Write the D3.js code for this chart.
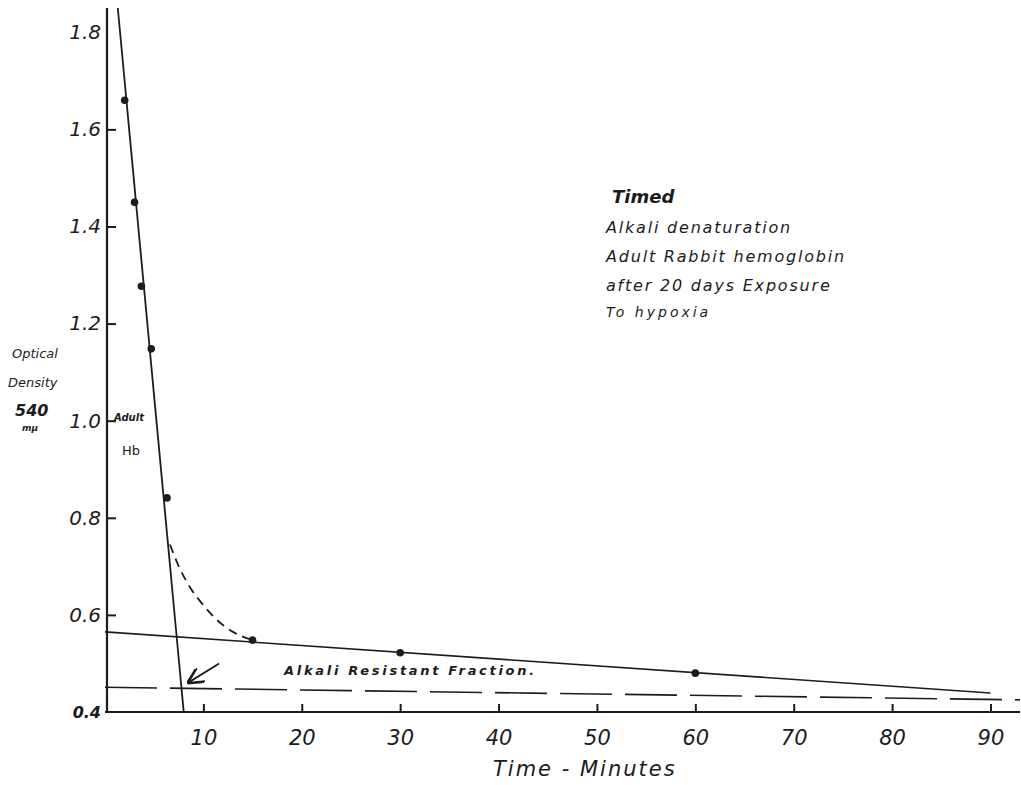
<!DOCTYPE html>
<html>
<head>
<meta charset="utf-8">
<script src="https://cdn.jsdelivr.net/npm/d3@7"></script>
<style>
  body { margin: 0; background: #fff; }
  text { font-family: "DejaVu Sans", sans-serif; font-style: italic; fill: #1c1c1c; }
</style>
</head>
<body>
<div id="chart"></div>
<script>
// measured points (time in minutes, optical density at 540 mμ)
const times = [2, 3, 3.7, 4.7, 6.3, 15, 30, 60];
const density = [1.66, 1.45, 1.277, 1.148, 0.841, 0.548, 0.522, 0.48];

// fitted lines
const adultHbLine = [[1.3, 1.85], [8.0, 0.4]];
const resistantLine = [[0, 0.565], [90, 0.439]];
const resistantLevel = [[0, 0.451], [93, 0.425]];
const transitionCurve = [[6.6, 0.745], [7.5, 0.70], [8.7, 0.655], [10, 0.62], [11.1, 0.595], [13, 0.565], [15, 0.548]];
const arrowPts = [[11.6, 0.50], [8.5, 0.461]];

const xTicks = [10, 20, 30, 40, 50, 60, 70, 80, 90];
const yTicks = [0.4, 0.6, 0.8, 1.0, 1.2, 1.4, 1.6, 1.8];

const noteLines = ["Alkali denaturation", "Adult Rabbit hemoglobin", "after 20 days Exposure", "To hypoxia"];

const width = 1021, height = 785;
const ink = "#1c1c1c";

const svg = d3.select("#chart")
  .append("svg")
    .attr("width", width)
    .attr("height", height);

const x = d3.scaleLinear().domain([0, 93]).range([105, 1020]);
const y = d3.scaleLinear().domain([0.4, 1.85]).range([712, 8]);

// axes
const xAxis = svg.append("g")
  .attr("transform", `translate(0, ${y(0.4)})`)
  .call(d3.axisBottom(x).tickValues(xTicks).tickSize(-8).tickPadding(18).tickFormat(d3.format("d")));
xAxis.select(".domain").attr("stroke", ink).attr("stroke-width", 2).attr("d", `M${x(0)},0H${x(93)}`);
xAxis.selectAll(".tick line").attr("stroke", ink).attr("stroke-width", 2);
xAxis.selectAll(".tick text")
  .attr("fill", ink)
  .style("font-size", "21px")
  .style("font-style", "italic");

const yAxis = svg.append("g")
  .attr("transform", `translate(${x(0) + 2}, 0)`)
  .call(d3.axisLeft(y).tickValues(yTicks).tickSize(-9).tickPadding(6).tickFormat(d3.format(".1f")));
yAxis.select(".domain").attr("stroke", ink).attr("stroke-width", 2.2).attr("d", `M0,${y(0.4)}V${y(1.85)}`);
yAxis.selectAll(".tick line")
  .attr("stroke", ink)
  .attr("stroke-width", 2)
  .attr("stroke-opacity", d => (d === 0.4 || d === 1.8) ? 0 : 1);
yAxis.selectAll(".tick text")
  .attr("fill", ink)
  .style("font-size", d => d === 0.4 ? "16px" : "20px")
  .style("font-style", "italic")
  .style("font-weight", d => d === 0.4 ? 600 : 400);

const line = d3.line().x(d => x(d[0])).y(d => y(d[1]));

// Adult Hb regression line
svg.append("path")
  .attr("d", line(adultHbLine))
  .attr("fill", "none").attr("stroke", ink).attr("stroke-width", 1.8);

// resistant fraction extrapolation
svg.append("path")
  .attr("d", line(resistantLine))
  .attr("fill", "none").attr("stroke", ink).attr("stroke-width", 1.6);

// resistant level (long dashes)
svg.append("path")
  .attr("d", line(resistantLevel))
  .attr("fill", "none").attr("stroke", ink).attr("stroke-width", 1.6)
  .attr("stroke-dasharray", "52,13");

// transition curve (short dashes)
svg.append("path")
  .attr("d", line.curve(d3.curveMonotoneX)(transitionCurve))
  .attr("fill", "none").attr("stroke", ink).attr("stroke-width", 1.8)
  .attr("stroke-dasharray", "9,6");
line.curve(d3.curveLinear);

// arrow pointing to the intersection
svg.append("defs").append("marker")
  .attr("id", "head")
  .attr("viewBox", "0 0 10 10")
  .attr("refX", 9).attr("refY", 5)
  .attr("markerWidth", 9).attr("markerHeight", 9)
  .attr("orient", "auto")
  .append("path")
    .attr("d", "M0,0L10,5L0,10")
    .attr("fill", "none").attr("stroke", ink).attr("stroke-width", 1.6);
svg.append("path")
  .attr("d", line(arrowPts))
  .attr("fill", "none").attr("stroke", ink).attr("stroke-width", 1.8)
  .attr("marker-end", "url(#head)");

// data points
svg.selectAll(".pt")
  .data(times.map((t, i) => [t, density[i]]))
  .join("circle")
    .attr("class", "pt")
    .attr("cx", d => x(d[0]))
    .attr("cy", d => y(d[1]))
    .attr("r", 3.8)
    .attr("fill", ink);

// labels
svg.append("text").text("Adult")
  .attr("x", 114).attr("y", 421).style("font-size", "10px").style("font-weight", 600);
svg.append("text").text("Hb")
  .attr("x", 122).attr("y", 455).style("font-size", "13px").style("font-style", "normal");

svg.append("text").text("Alkali Resistant Fraction.")
  .attr("x", 284).attr("y", 675)
  .style("font-size", "13px").style("font-weight", 600).style("letter-spacing", "2.7px");

const yLabel = svg.append("g").style("font-size", "13px");
yLabel.append("text").text("Optical").attr("x", 12).attr("y", 358);
yLabel.append("text").text("Density").attr("x", 8).attr("y", 387);
yLabel.append("text").text("540").attr("x", 15).attr("y", 416).style("font-size", "16px").style("font-weight", 600);
yLabel.append("text").text("mμ").attr("x", 22).attr("y", 431).style("font-size", "9px").style("font-weight", 600);

svg.append("text").text("Time - Minutes")
  .attr("x", 493).attr("y", 776)
  .style("font-size", "21px").style("letter-spacing", "2px");

// note block
const note = svg.append("g").attr("transform", "translate(606, 0)");
note.append("text").text("Timed").attr("x", 6).attr("y", 203)
  .style("font-size", "18px").style("font-weight", 600);
note.selectAll(".note")
  .data(noteLines)
  .join("text")
    .attr("class", "note")
    .attr("x", 0)
    .attr("y", (d, i) => 233 + i * 29 - (i === 3 ? 3 : 0))
    .text(d => d)
    .style("font-size", (d, i) => i === 3 ? "14px" : "16px")
    .style("letter-spacing", (d, i) => i === 3 ? "3px" : "1.8px");
</script>
</body>
</html>
